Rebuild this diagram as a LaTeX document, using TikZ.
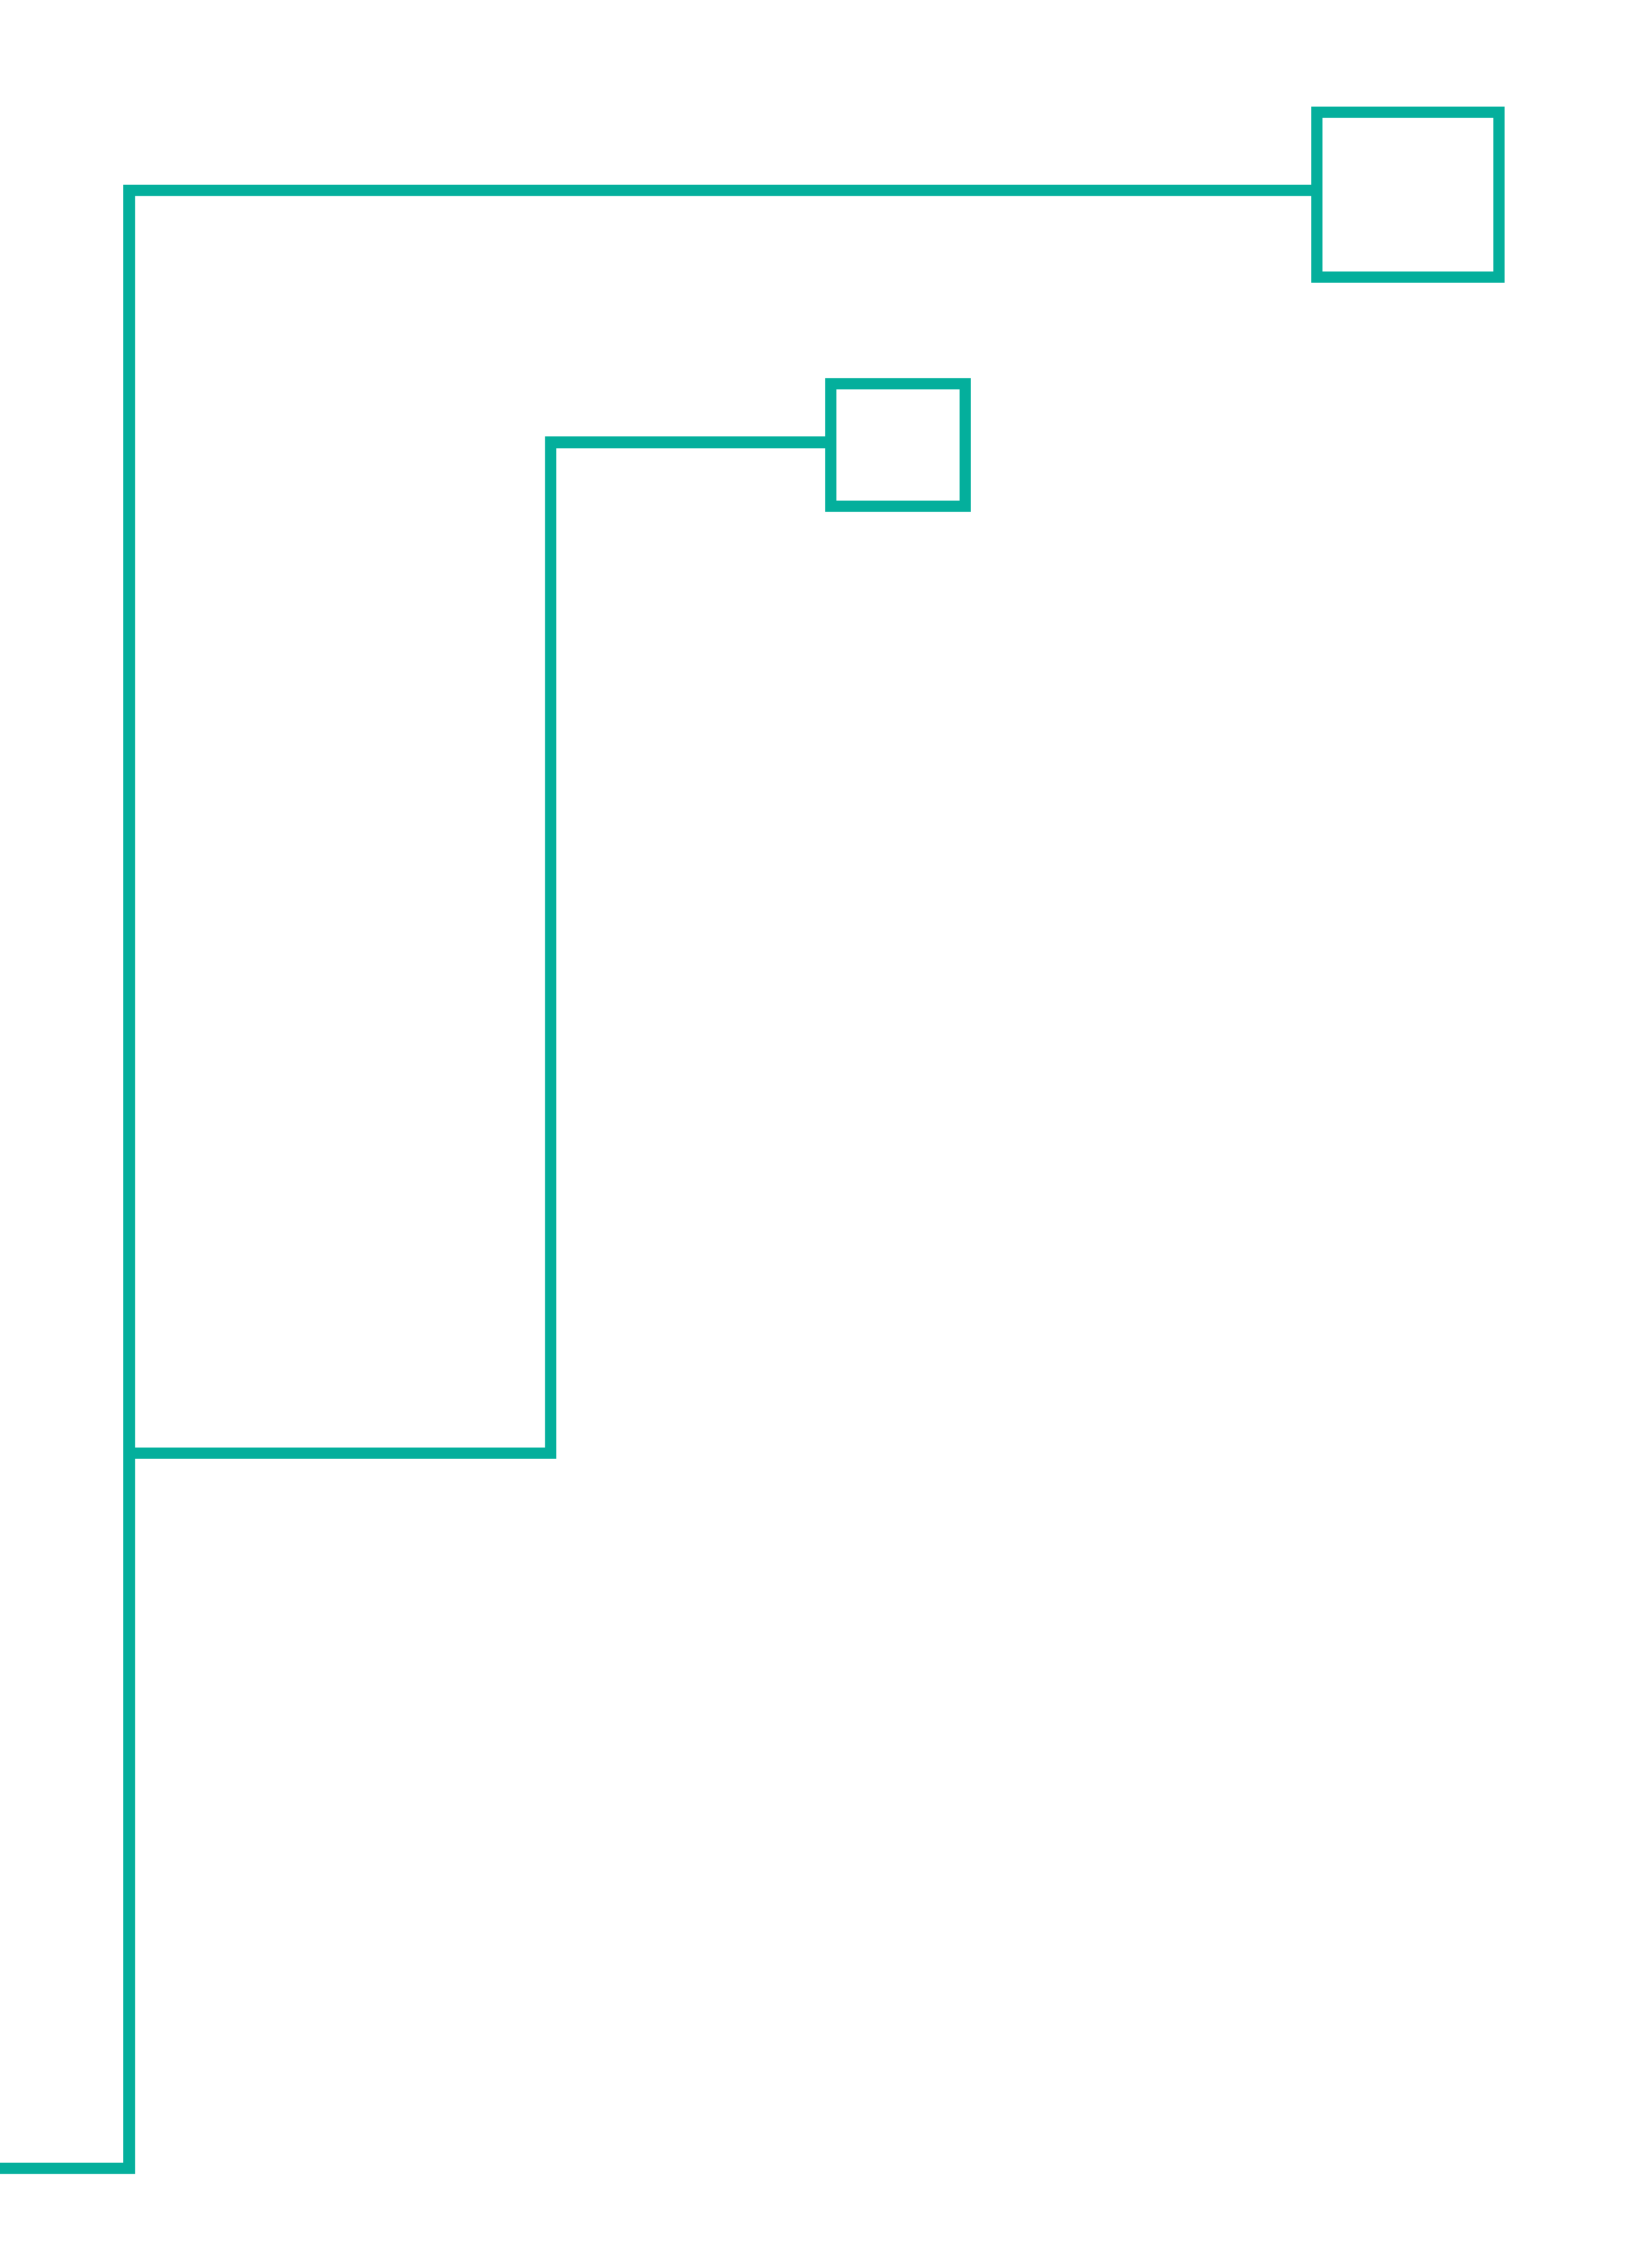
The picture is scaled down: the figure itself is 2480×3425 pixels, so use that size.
\documentclass[tikz,border=0pt]{standalone}
\definecolor{treeteal}{RGB}{4,175,156}
\begin{document}
\begin{tikzpicture}[x=0.01cm, y=-0.01cm, line join=miter,
    leafbox/.style={draw=treeteal, line width=0.17cm, inner sep=0pt},
    branch/.style={draw=treeteal, line width=0.17cm}]
    \useasboundingbox (0,0) rectangle (2480,3425);
    \node[leafbox, minimum width=2.74cm, minimum height=2.49cm] (bigleaf) at (2126,294) {};
    \node[leafbox, minimum width=2.03cm, minimum height=1.84cm] (smallleaf) at (1356,672) {};
    \coordinate (root) at (0,3274);
    \coordinate (trunkfoot) at (195,3274);
    \coordinate (trunktop) at (195,288);
    \coordinate (forkleft) at (195,2194);
    \coordinate (forkright) at (831,2194);
    \coordinate (forktop) at (831,668);
    \draw[branch] (root) -- (trunkfoot) -- (trunktop) -- (trunktop -| bigleaf.west);
    \draw[branch] (forkleft) -- (forkright) -- (forktop) -- (forktop -| smallleaf.west);
  \end{tikzpicture}
\end{document}
